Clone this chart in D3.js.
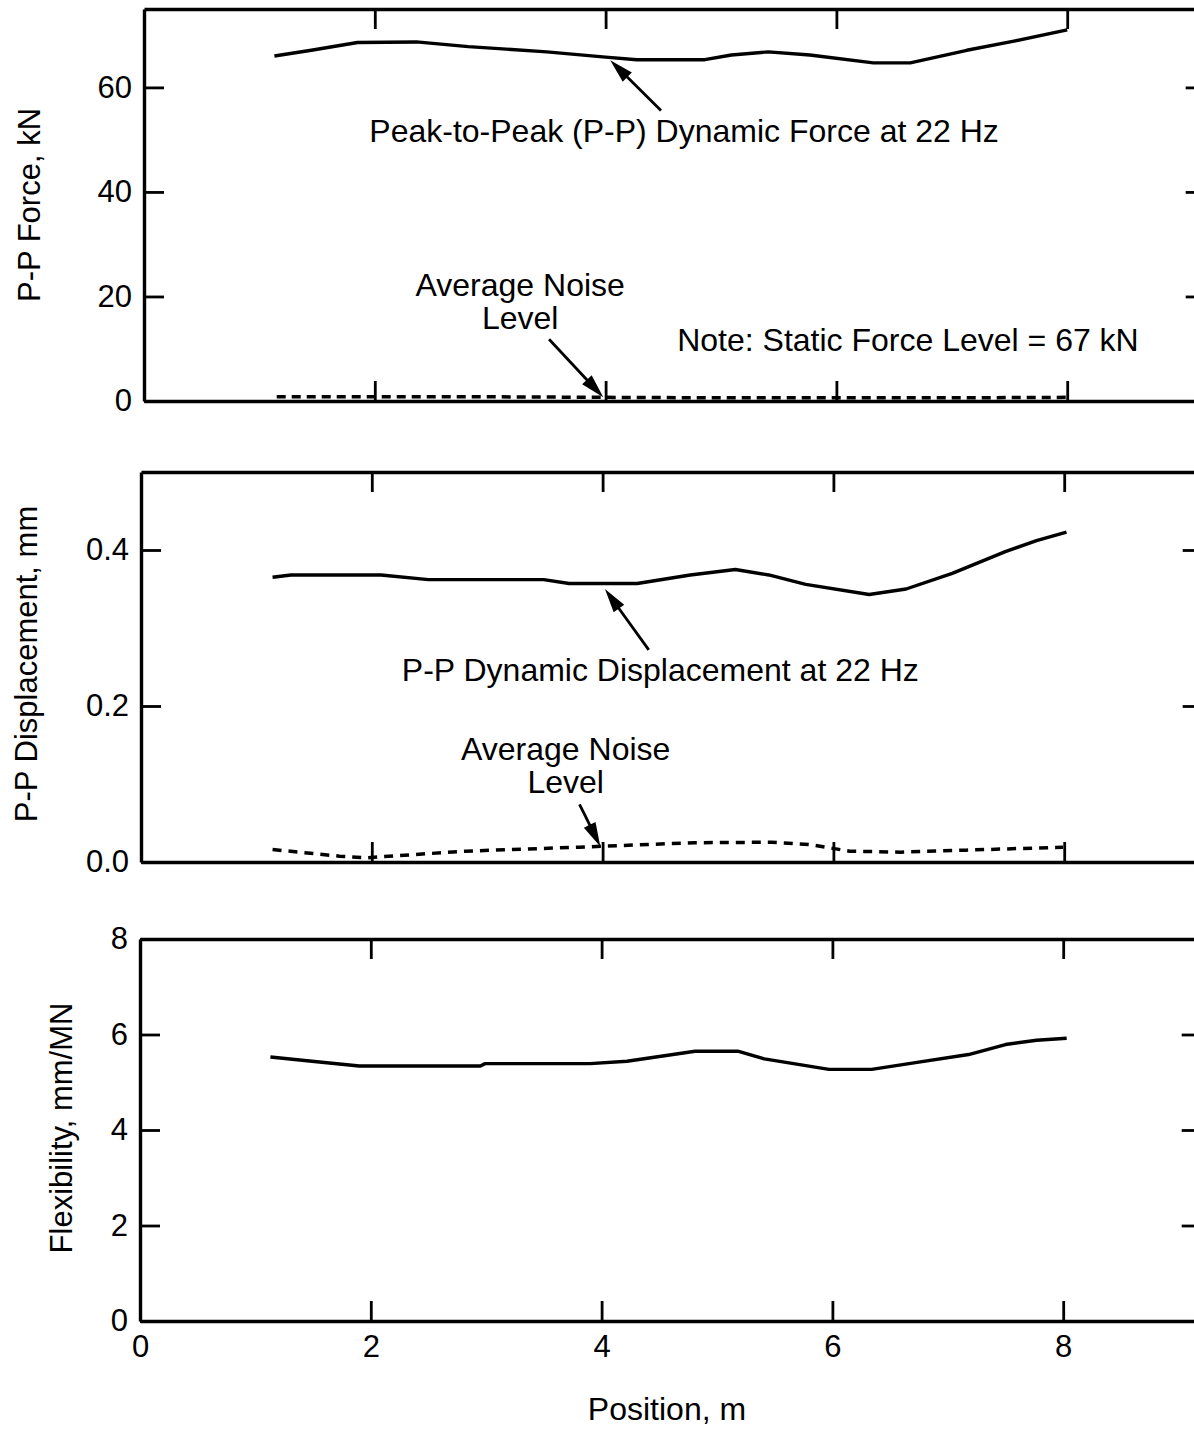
<!DOCTYPE html>
<html><head><meta charset="utf-8">
<script src="https://cdn.jsdelivr.net/npm/d3@7"></script>
<style>
body{margin:0;background:#fff}
svg{display:block;background:#fff}
text{font-family:"Liberation Sans",Arial,Helvetica,sans-serif;fill:#000}
</style>
</head><body>
<svg id="c" width="1194" height="1430"></svg>
<script>
// ---------- data ----------
const xTickValues = [0, 2, 4, 6, 8];
const innerXTicks = [2, 4, 6, 8];

const forceX  = [1.13, 1.45, 1.85, 2.36, 2.81, 3.49, 4.00, 4.27, 4.86, 5.09, 5.41, 5.77, 6.32, 6.64, 7.13, 7.55, 8.00];
const forceKN = [66.0, 67.1, 68.6, 68.7, 67.8, 66.8, 65.8, 65.3, 65.3, 66.2, 66.8, 66.2, 64.7, 64.7, 67.1, 68.9, 71.0];
const forceNoiseX  = [1.15, 2, 3, 4, 5, 6, 7, 8];
const forceNoiseKN = [0.8, 0.8, 0.8, 0.7, 0.6, 0.6, 0.6, 0.7];

const dispX  = [1.14, 1.30, 2.08, 2.49, 3.49, 3.71, 4.30, 4.76, 5.15, 5.44, 5.76, 6.31, 6.63, 7.03, 7.49, 7.76, 8.02];
const dispMM = [0.365, 0.368, 0.368, 0.362, 0.362, 0.357, 0.357, 0.368, 0.375, 0.368, 0.356, 0.343, 0.350, 0.370, 0.398, 0.412, 0.423];
const dispNoiseX  = [1.14, 1.72, 1.95, 2.81, 3.80, 4.13, 4.80, 5.46, 5.79, 6.14, 6.58, 7.15, 7.99];
const dispNoiseMM = [0.016, 0.0075, 0.0054, 0.0139, 0.019, 0.021, 0.0247, 0.0254, 0.0225, 0.0139, 0.0126, 0.0152, 0.019];

const flexX = [1.13, 1.49, 1.90, 2.95, 2.99, 3.90, 4.22, 4.81, 5.18, 5.41, 5.97, 6.34, 6.72, 7.18, 7.50, 7.77, 8.03];
const flexMMperMN = [5.53, 5.44, 5.34, 5.34, 5.39, 5.39, 5.44, 5.65, 5.65, 5.49, 5.27, 5.27, 5.41, 5.58, 5.79, 5.88, 5.92];

const forceTicks = [0, 20, 40, 60];
const dispTicks = [0, 0.2, 0.4];
const flexTicks = [0, 2, 4, 6, 8];

// ---------- layout ----------
const svg = d3.select("#c");
const X0 = 140, UNIT = 115.4, XMAX = 9.2;
const x = d3.scaleLinear().domain([0, XMAX]).range([X0, X0 + XMAX * UNIT]);
const FONT = 31;

const panels = [
  {dx: 4, range: [401, 9], domain: [0, 75], ticks: forceTicks, fmt: d3.format("d"),
   title: "P-P Force, kN", tx: 30, ty: 205, bottomLabels: false,
   series: [{xs: forceX, ys: forceKN, dash: null}, {xs: forceNoiseX, ys: forceNoiseKN, dash: "9,6"}]},
  {dx: 1, range: [862, 472], domain: [0, 0.5], ticks: dispTicks, fmt: d3.format(".1f"),
   title: "P-P Displacement, mm", tx: 27, ty: 664, bottomLabels: false,
   series: [{xs: dispX, ys: dispMM, dash: null}, {xs: dispNoiseX, ys: dispNoiseMM, dash: "9,7"}]},
  {dx: 0, range: [1321, 939], domain: [0, 8], ticks: flexTicks, fmt: d3.format("d"),
   title: "Flexibility, mm/MN", tx: 62, ty: 1128, bottomLabels: true,
   series: [{xs: flexX, ys: flexMMperMN, dash: null}]}
];

function styleAxis(g) {
  g.attr("font-size", null).attr("font-family", null);
  g.selectAll("path.domain").attr("stroke", "#000").attr("stroke-width", 3.4);
  g.selectAll(".tick line").attr("stroke", "#000").attr("stroke-width", 2.8);
  g.selectAll(".tick text").style("font-size", FONT + "px");
}

function arrow(g, xs, ys, from, to) {
  const x1 = xs(from[0]), y1 = ys(from[1]), x2 = xs(to[0]), y2 = ys(to[1]);
  const dxv = x2 - x1, dyv = y2 - y1, L = Math.hypot(dxv, dyv);
  const ux = dxv / L, uy = dyv / L, hl = 24, hw = 6.5;
  const bx = x2 - ux * hl, by = y2 - uy * hl;
  g.append("line").attr("x1", x1).attr("y1", y1).attr("x2", bx + ux * 4).attr("y2", by + uy * 4)
    .attr("stroke", "#000").attr("stroke-width", 2.8);
  g.append("path")
    .attr("d", `M${x2},${y2}L${bx - uy * hw},${by + ux * hw}L${bx + uy * hw},${by - ux * hw}Z`)
    .attr("fill", "#000");
}

function label(g, xs, ys, pos, txt, size) {
  g.append("text").attr("x", xs(pos[0])).attr("y", ys(pos[1])).attr("dy", "0.36em")
    .attr("text-anchor", "middle").style("font-size", (size || 32) + "px").text(txt);
}

panels.forEach((p, i) => {
  const y = d3.scaleLinear().domain(p.domain).range(p.range);
  const g = svg.append("g").attr("transform", `translate(${p.dx},0)`);
  const xl = x.range()[0], xr = x.range()[1];

  // axes
  g.append("g").attr("transform", `translate(${xl},0)`)
    .call(d3.axisLeft(y).tickValues(p.ticks).tickFormat(p.fmt).tickSizeInner(-20).tickSizeOuter(0).tickPadding(12))
    .call(styleAxis);
  g.append("g").attr("transform", `translate(${xr},0)`)
    .call(d3.axisRight(y).tickValues(p.ticks.filter(v => v > 0)).tickFormat("").tickSizeInner(-20).tickSizeOuter(0))
    .call(styleAxis);
  g.append("g").attr("transform", `translate(0,${p.range[1]})`)
    .call(d3.axisTop(x).tickValues(innerXTicks).tickFormat("").tickSizeInner(-20).tickSizeOuter(0))
    .call(styleAxis);
  g.append("g").attr("transform", `translate(0,${p.range[0]})`)
    .call(d3.axisBottom(x).tickValues(p.bottomLabels ? xTickValues : innerXTicks)
      .tickFormat(p.bottomLabels ? d3.format("d") : "").tickSizeInner(-20).tickSizeOuter(0).tickPadding(14))
    .call(styleAxis);

  // axis title
  svg.append("text").attr("transform", `translate(${p.tx},${p.ty}) rotate(-90)`)
    .attr("dy", "0.33em").attr("text-anchor", "middle").style("font-size", FONT + "px").text(p.title);

  // series
  const line = d3.line().x(d => x(d[0])).y(d => y(d[1]));
  p.series.forEach(s => {
    g.append("path").datum(s.xs.map((v, k) => [v, s.ys[k]]))
      .attr("d", line).attr("fill", "none").attr("stroke", "#000")
      .attr("stroke-width", s.dash ? 3.5 : 3.4)
      .attr("stroke-linejoin", "round")
      .attr("stroke-dasharray", s.dash);
  });

  // annotations
  if (i === 0) {
    label(g, x, y, [4.68, 51.7], "Peak-to-Peak (P-P) Dynamic Force at 22 Hz");
    arrow(g, x, y, [4.48, 55.6], [4.04, 65.2]);
    label(g, x, y, [3.26, 22.2], "Average Noise");
    label(g, x, y, [3.26, 15.9], "Level");
    arrow(g, x, y, [3.51, 11.8], [3.98, 0.7]);
    label(g, x, y, [6.62, 11.7], "Note: Static Force Level = 67 kN");
  } else if (i === 1) {
    label(g, x, y, [4.50, 0.247], "P-P Dynamic Displacement at 22 Hz");
    arrow(g, x, y, [4.40, 0.272], [4.02, 0.350]);
    label(g, x, y, [3.68, 0.146], "Average Noise");
    label(g, x, y, [3.68, 0.103], "Level");
    arrow(g, x, y, [3.80, 0.074], [3.98, 0.020]);
  }
});

// x-axis title
svg.append("text").attr("x", 667).attr("y", 1408).attr("dy", "0.36em")
  .attr("text-anchor", "middle").style("font-size", "32px").text("Position, m");
</script>
</body></html>
